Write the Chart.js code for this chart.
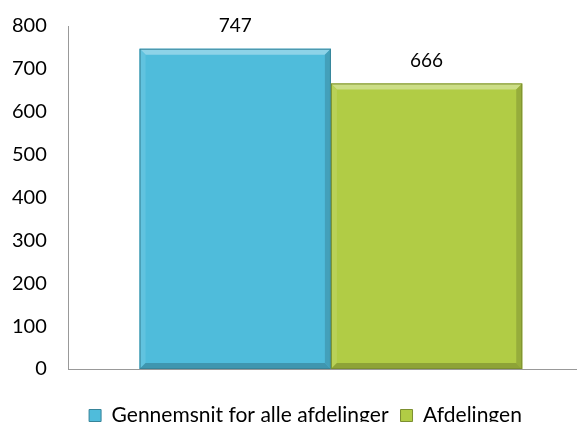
<!DOCTYPE html>
<html>
<head>
<meta charset="utf-8">
<script src="https://cdn.jsdelivr.net/npm/chart.js@4"></script>
<style>
  html, body { margin: 0; padding: 0; background: #fff; overflow: hidden; }
  #wrap { width: 600px; height: 422px; }
</style>
</head>
<body>
<div id="wrap"><canvas id="customChart"></canvas></div>
<script>
let categories = [''];
let seriesNames = ['Gennemsnit for alle afdelinger', 'Afdelingen'];
let seriesValues = [747, 666];
let colorHex = ['#4FBCDB', '#B1CC45'];
let yTicks = [0, 100, 200, 300, 400, 500, 600, 700, 800];

let fontFamily = 'Lato, "Open Sans", sans-serif';

function shade(hex, amt) {
  let n = parseInt(hex.slice(1), 16);
  let r = (n >> 16) & 255, g = (n >> 8) & 255, b = n & 255;
  let f = (c) => Math.max(0, Math.min(255, Math.round(amt > 0 ? c + (255 - c) * amt : c * (1 + amt))));
  return 'rgb(' + f(r) + ',' + f(g) + ',' + f(b) + ')';
}

// bevel edges + value labels on top of the bars
let bevelPlugin = {
  id: 'bevel',
  afterLayout(chart) {
    // nudge legend to the right, like the original
    chart.legend.left += 14;
    chart.legend.right += 14;
  },
  afterDatasetsDraw(chart) {
    let ctx = chart.ctx;
    chart.data.datasets.forEach((ds, i) => {
      let meta = chart.getDatasetMeta(i);
      meta.data.forEach((bar, j) => {
        let x0 = bar.x - bar.width / 2, x1 = bar.x + bar.width / 2;
        let y0 = bar.y, y1 = bar.base;
        let d = 6;
        let c = ds.backgroundColor;
        ctx.save();
        ctx.fillStyle = shade(c, 0.35);
        ctx.beginPath();
        ctx.moveTo(x0, y0); ctx.lineTo(x1, y0); ctx.lineTo(x1 - d, y0 + d); ctx.lineTo(x0 + d, y0 + d);
        ctx.closePath(); ctx.fill();
        ctx.fillStyle = shade(c, 0.1);
        ctx.beginPath();
        ctx.moveTo(x0, y0); ctx.lineTo(x0 + d, y0 + d); ctx.lineTo(x0 + d, y1 - d); ctx.lineTo(x0, y1);
        ctx.closePath(); ctx.fill();
        ctx.fillStyle = shade(c, -0.15);
        ctx.beginPath();
        ctx.moveTo(x1, y0); ctx.lineTo(x1 - d, y0 + d); ctx.lineTo(x1 - d, y1 - d); ctx.lineTo(x1, y1);
        ctx.closePath(); ctx.fill();
        ctx.fillStyle = shade(c, -0.2);
        ctx.beginPath();
        ctx.moveTo(x0, y1); ctx.lineTo(x0 + d, y1 - d); ctx.lineTo(x1 - d, y1 - d); ctx.lineTo(x1, y1);
        ctx.closePath(); ctx.fill();
        ctx.strokeStyle = shade(c, -0.3);
        ctx.lineWidth = 1;
        ctx.strokeRect(x0 + 0.5, y0 + 0.5, bar.width - 1, y1 - y0 - 1);
        ctx.fillStyle = '#000';
        ctx.font = '19px ' + fontFamily;
        ctx.textAlign = 'center';
        ctx.textBaseline = 'middle';
        ctx.fillText(ds.data[j], bar.x, y0 - 23);
        ctx.restore();
      });
    });
  }
};

let ctx = document.getElementById('customChart').getContext('2d');

let myChart = new Chart(ctx, {
  type: 'bar',
  data: {
    labels: categories,
    datasets: seriesNames.map((name, i) => ({
      label: name,
      data: [seriesValues[i]],
      backgroundColor: colorHex[i],
      borderWidth: 0,
      categoryPercentage: 0.73,
      barPercentage: 1.0
    }))
  },
  options: {
    responsive: true,
    maintainAspectRatio: false,
    animation: false,
    layout: {
      padding: { top: 26, left: -10, right: 7, bottom: -14 }
    },
    scales: {
      x: {
        grid: { display: false, drawTicks: false },
        border: { display: true, color: '#999' },
        ticks: { display: false },
        // empty title used as spacer between axis and legend
        title: { display: true, text: '', padding: 0, font: { size: 20 } }
      },
      y: {
        min: 0,
        max: 800,
        afterBuildTicks: (axis) => { axis.ticks = yTicks.map(v => ({ value: v })); },
        afterFit: (axis) => { axis.paddingTop = 0; axis.paddingBottom = 0; },
        grid: { display: false, drawTicks: false },
        border: { display: true, color: '#999' },
        ticks: {
          padding: 22,
          color: '#000',
          font: { family: fontFamily, size: 20 }
        }
      }
    },
    plugins: {
      legend: {
        position: 'bottom',
        labels: {
          color: '#000',
          boxWidth: 12,
          boxHeight: 12,
          padding: 12,
          font: { family: fontFamily, size: 21 },
          generateLabels: (chart) => chart.data.datasets.map((ds, i) => ({
            text: ds.label,
            fillStyle: ds.backgroundColor,
            strokeStyle: shade(ds.backgroundColor, -0.3),
            lineWidth: 1,
            datasetIndex: i,
            fontColor: '#000'
          }))
        }
      },
      tooltip: { enabled: false }
    }
  },
  plugins: [bevelPlugin]
});
</script>
</body>
</html>
